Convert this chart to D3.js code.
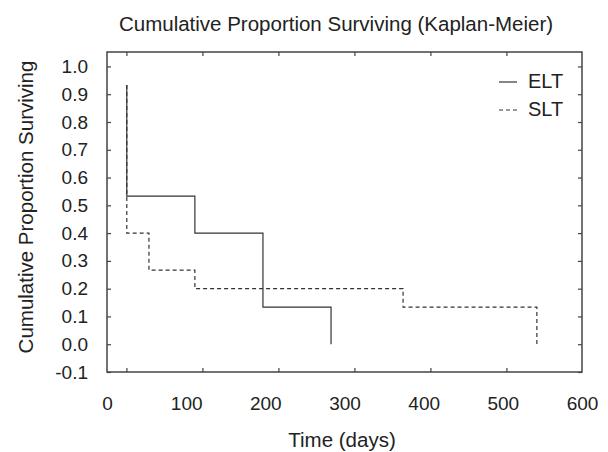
<!DOCTYPE html>
<html>
<head>
<meta charset="utf-8">
<script src="https://cdn.jsdelivr.net/npm/d3@7"></script>
<style>
  body { margin: 0; background: #fff; }
  text { font-family: "Liberation Sans", Arial, sans-serif; fill: #222; }
</style>
</head>
<body>
<svg id="lienzo" width="608" height="452"></svg>
<script>
// datos (tiempo en dias, proporcion acumulada)
const seriesNames = ['ELT', 'SLT'];
const eltTimes = [25, 25, 111, 197, 283];
const eltSurv = [0.9333, 0.5333, 0.4, 0.1333, 0];
const sltTimes = [25, 25, 53, 111, 374, 543];
const sltSurv = [0.9333, 0.4, 0.2667, 0.2, 0.1333, 0];

const xLabels = [0, 100, 200, 300, 400, 500, 600];
const xTickMarks = [24.5, 120.5, 216.5, 312.5, 408.5, 504.5];
const yLabels = [-0.1, 0, 0.1, 0.2, 0.3, 0.4, 0.5, 0.6, 0.7, 0.8, 0.9, 1.0];

const width = 608, height = 452;
const margin = { top: 52, right: 26, bottom: 80, left: 107 };

const svg = d3.select('#lienzo');

const x = d3.scaleLinear().domain([0, 600]).range([margin.left, width - margin.right]);
const y = d3.scaleLinear().domain([-0.1, 1.052]).range([height - margin.bottom, margin.top]);

const lineColor = '#333';
const fmtY = d => d.toFixed(1); // guion normal como en el original

// marcas de los ejes (hacia dentro)
svg.append('g')
    .attr('transform', `translate(0,${height - margin.bottom})`)
    .call(d3.axisBottom(x).tickValues(xTickMarks).tickSize(-4).tickFormat(''))
    .call(g => g.select('.domain').remove());
svg.append('g')
    .attr('transform', `translate(0,${margin.top})`)
    .call(d3.axisTop(x).tickValues(xTickMarks).tickSize(-4).tickFormat(''))
    .call(g => g.select('.domain').remove());

// etiquetas del eje x
svg.append('g')
    .attr('transform', `translate(0,${height - margin.bottom})`)
    .call(d3.axisBottom(x).tickValues(xLabels).tickSize(0).tickPadding(25).tickFormat(d3.format('d')))
    .call(g => g.select('.domain').remove())
    .selectAll('text')
    .attr('font-size', '19px')
    .style('font-family', '"Liberation Sans", Arial, sans-serif')
    .attr('fill', '#222');

svg.append('g')
    .attr('transform', `translate(${margin.left},0)`)
    .call(d3.axisLeft(y).tickValues(yLabels).tickSize(-4).tickPadding(19).tickFormat(fmtY))
    .call(g => g.select('.domain').remove())
    .selectAll('text')
    .attr('font-size', '19px')
    .style('font-family', '"Liberation Sans", Arial, sans-serif')
    .attr('fill', '#222');

svg.append('g')
    .attr('transform', `translate(${width - margin.right},0)`)
    .call(d3.axisRight(y).tickValues(yLabels).tickSize(-4).tickFormat(''))
    .call(g => g.select('.domain').remove());

svg.selectAll('.tick line').attr('stroke', '#444').attr('stroke-width', 1.2);

// marco
svg.append('rect')
    .attr('x', margin.left)
    .attr('y', margin.top)
    .attr('width', width - margin.left - margin.right)
    .attr('height', height - margin.top - margin.bottom)
    .attr('fill', 'none')
    .attr('stroke', '#444')
    .attr('stroke-width', 1.5);

// curvas escalonadas
const step = d3.line()
    .x(d => x(d[0]))
    .y(d => y(d[1]))
    .curve(d3.curveStepAfter);

svg.append('path')
    .datum(d3.zip(sltTimes, sltSurv))
    .attr('d', step)
    .attr('fill', 'none')
    .attr('stroke', lineColor)
    .attr('stroke-width', 1.2)
    .attr('stroke-dasharray', '4,3');

svg.append('path')
    .datum(d3.zip(eltTimes, eltSurv))
    .attr('d', step)
    .attr('fill', 'none')
    .attr('stroke', lineColor)
    .attr('stroke-width', 1.2);

// leyenda
const legend = svg.append('g');
seriesNames.forEach((name, i) => {
    const ly = 82 + i * 28;
    legend.append('line')
        .attr('x1', 499).attr('x2', 517)
        .attr('y1', ly).attr('y2', ly)
        .attr('stroke', lineColor)
        .attr('stroke-width', 1.2)
        .attr('stroke-dasharray', i === 0 ? null : '4,3');
    legend.append('text')
        .attr('x', 528)
        .attr('y', ly + 6)
        .attr('font-size', '20px')
        .text(name);
});

// titulos
svg.append('text')
    .attr('x', 336)
    .attr('y', 31)
    .attr('text-anchor', 'middle')
    .attr('font-size', '20.5px')
    .text('Cumulative Proportion Surviving (Kaplan-Meier)');

svg.append('text')
    .attr('x', 342)
    .attr('y', 447)
    .attr('text-anchor', 'middle')
    .attr('font-size', '20.5px')
    .text('Time (days)');

svg.append('text')
    .attr('transform', 'translate(33,207) rotate(-90)')
    .attr('text-anchor', 'middle')
    .attr('font-size', '20.5px')
    .text('Cumulative Proportion Surviving');
</script>
</body>
</html>
